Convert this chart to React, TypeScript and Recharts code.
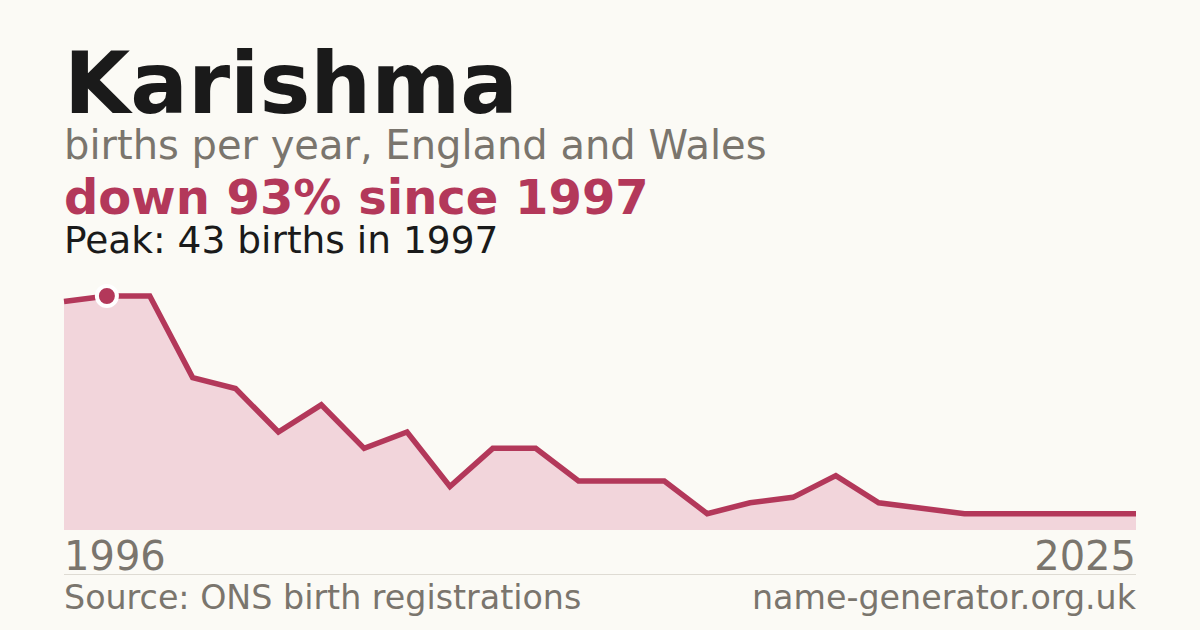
import { AreaChart, Area, XAxis, YAxis, ReferenceDot } from 'recharts'

// births per year
const years = [
  1996, 1997, 1998, 1999, 2000, 2001, 2002, 2003, 2004, 2005, 2006, 2007, 2008,
  2009, 2010, 2011, 2012, 2013, 2014, 2015, 2016, 2017, 2018, 2019, 2020, 2021,
]
const births = [42, 43, 43, 28, 26, 18, 23, 15, 18, 8, 15, 15, 9, 9, 9, 3, 5, 6, 10, 5, 4, 3, 3, 3, 3, 3]
const rangeLabels = ['1996', '2025']
const peakYear = 1997
const peakValue = 43

const data = years.map((year, i) => ({ year, births: births[i] }))

const RED = '#b3385a'
const GREY = '#7a756d'
const FONT = '"DejaVu Sans", sans-serif'

export default function App() {
  return (
    <div
      style={{
        position: 'absolute',
        left: 0,
        top: 0,
        width: 1200,
        height: 630,
        background: '#fbfaf5',
        fontFamily: FONT,
        overflow: 'hidden',
      }}
    >
      <AreaChart
        width={1200}
        height={630}
        data={data}
        margin={{ top: 296, right: 64, bottom: 100, left: 64 }}
        style={{ position: 'absolute', left: 0, top: 0 }}
      >
        <XAxis dataKey="year" hide />
        <YAxis hide domain={[0, peakValue]} />
        <Area
          type="linear"
          dataKey="births"
          stroke={RED}
          strokeWidth={5.5}
          fill="#f2d5db"
          fillOpacity={1}
          dot={false}
          activeDot={false}
          isAnimationActive={false}
        />
        <ReferenceDot x={peakYear} y={peakValue} r={10} fill={RED} stroke="#ffffff" strokeWidth={4} />
      </AreaChart>

      <svg width={1200} height={630} style={{ position: 'absolute', left: 0, top: 0, pointerEvents: 'none' }}>
        <g fontFamily={FONT}>
          <text x={64} y={113} fontSize={85.5} fontWeight="bold" fill="#1a1a1a">Karishma</text>
          <text x={64} y={159} fontSize={40} fill={GREY}>births per year, England and Wales</text>
          <text x={64} y={214} fontSize={48} fontWeight="bold" fill={RED}>down 93% since 1997</text>
          <text x={64} y={253} fontSize={37.5} fill="#1a1a1a">Peak: 43 births in 1997</text>
          <text x={64} y={570} fontSize={40} fill={GREY}>{rangeLabels[0]}</text>
          <text x={1136} y={570} fontSize={40} fill={GREY} textAnchor="end">{rangeLabels[1]}</text>
          <line x1={64} x2={1136} y1={574.5} y2={574.5} stroke="#dedbd3" strokeWidth={1} />
          <text x={64} y={609} fontSize={33.3} fill={GREY}>Source: ONS birth registrations</text>
          <text x={1136} y={609} fontSize={33.3} fill={GREY} textAnchor="end">name-generator.org.uk</text>
        </g>
      </svg>
    </div>
  )
}
